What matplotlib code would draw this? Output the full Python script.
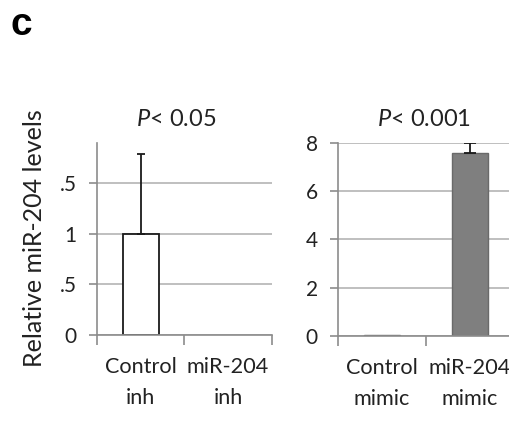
import numpy as np
import matplotlib.pyplot as plt

plt.rcParams['font.family'] = ['Lato', 'DejaVu Sans']
plt.rcParams['mathtext.fontset'] = 'custom'
plt.rcParams['mathtext.it'] = 'Lato:italic'
plt.rcParams['mathtext.rm'] = 'Lato'

# left panel: inhibitor
inh_labels = ['Control\ninh', 'miR-204\ninh']
inh_vals = [1.0, 0.0]
inh_err = [0.79, 0.0]
inh_ticks = [0, 0.5, 1, 1.5]
inh_ticklabels = ['0', '.5', '1', '.5']

# right panel: mimic
mim_labels = ['Control\nmimic', 'miR-204\nmimic']
mim_vals = [0.03, 7.6]
mim_err = [0.0, 0.38]
mim_ticks = [0, 2, 4, 6, 8]

grid_c = '#b4b4b4'
spine_c = '#8c8c8c'
txt_c = '#222222'


def style_ax(ax, ymax):
    ax.set_xlim(-0.5, 1.5)
    ax.set_ylim(0, ymax)
    for s in ['top', 'right']:
        ax.spines[s].set_visible(False)
    for s in ['left', 'bottom']:
        ax.spines[s].set_color(spine_c)
        ax.spines[s].set_linewidth(1.2)
    ax.yaxis.grid(True, color=grid_c, lw=1.2)
    ax.set_axisbelow(True)
    ax.tick_params(axis='y', length=5.5, width=1.2, color=spine_c,
                   labelsize=15, pad=9, labelcolor=txt_c)
    # category labels sit between boundary ticks (excel style)
    ax.set_xticks([-0.5, 0.5, 1.5])
    ax.set_xticklabels([])
    ax.tick_params(axis='x', length=7, width=1.2, color=spine_c)


def cat_labels(ax, labels):
    for i, lab in enumerate(labels):
        ax.text(i, -0.115, lab, transform=ax.get_xaxis_transform(), ha='center',
                va='top', fontsize=15.6, linespacing=1.68, color=txt_c)


fig = plt.figure(figsize=(5.1, 4.23), dpi=100)
x = np.arange(2)

ax1 = fig.add_axes([0.190, 0.208, 0.343, 0.454])
ax1.bar(x, inh_vals, width=0.41, color='white', edgecolor='#1a1a1a',
        lw=[1.3 if v > 0 else 0 for v in inh_vals], zorder=2)
ax1.errorbar(x[:1], inh_vals[:1], yerr=[[0], inh_err[:1]], fmt='none',
             ecolor='#1a1a1a', elinewidth=1.3, capsize=3, capthick=1.3, zorder=3)
style_ax(ax1, 1.9)
ax1.set_yticks(inh_ticks)
ax1.set_yticklabels(inh_ticklabels)
cat_labels(ax1, inh_labels)
t1 = ax1.set_title('$\\mathit{P}$< 0.05', fontsize=17, pad=12, color=txt_c)
t1.set_x(0.454)

ax2 = fig.add_axes([0.663, 0.206, 0.345, 0.456])
ax2.bar(x, mim_vals, width=0.41, color='#7f7f7f', edgecolor='#6a6a6a', lw=1.0, zorder=2)
ax2.errorbar(x[1:], mim_vals[1:], yerr=[[0], mim_err[1:]], fmt='none',
             ecolor='#1a1a1a', elinewidth=1.3, capsize=4, capthick=1.3, zorder=3)
style_ax(ax2, 8)
ax2.set_yticks(mim_ticks)
cat_labels(ax2, mim_labels)
t2 = ax2.set_title('$\\mathit{P}$< 0.001', fontsize=17, pad=12, color=txt_c)
t2.set_x(0.49)

fig.text(35 / 510, 1 - 238.5 / 423, 'Relative miR-204 levels', rotation=90,
         ha='center', va='center', fontsize=18, color=txt_c)

fig.text(0.042, 0.94, 'c', fontsize=28, fontweight='bold', ha='center', va='center',
         family='Liberation Sans')

fig.savefig('out.png', dpi=100)
